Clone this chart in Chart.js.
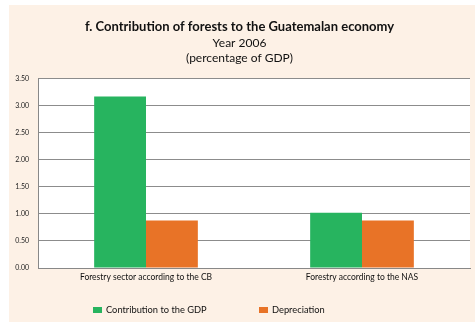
<!DOCTYPE html>
<html>
<head>
<meta charset="utf-8">
<script src="https://cdn.jsdelivr.net/npm/chart.js@4.4.1/dist/chart.umd.min.js"></script>
<style>
  html, body { margin: 0; padding: 0; background: #ffffff; }
  #wrap { position: absolute; left: 9px; top: 5px; width: 466px; height: 317px; background: #fdf1e6; }
</style>
</head>
<body>
<div id="wrap"><canvas id="chart"></canvas></div>
<script>
// Categories and series
var categories = ['Forestry sector according to the CB', 'Forestry according to the NAS'];
var gdpContribution = [3.17, 1.02];
var depreciation = [0.88, 0.88];
var yTicksMax = 3.5;

var FONT = 'Lato, "Open Sans", sans-serif';

// paint the plot area white, the rest stays peach
var plotBg = {
    id: 'plotBg',
    beforeDraw: function(chart) {
        var a = chart.chartArea, ctx = chart.ctx;
        ctx.save();
        ctx.fillStyle = '#ffffff';
        ctx.fillRect(a.left, a.top, a.right - a.left, a.bottom - a.top);
        ctx.restore();
    }
};

// legend drawn by hand: wide gap between the two items
var wideLegend = {
    id: 'wideLegend',
    afterDraw: function(chart) {
        var ctx = chart.ctx, a = chart.chartArea;
        var x = a.left + 55, y = a.bottom + 42;
        ctx.save();
        ctx.font = '9.3px ' + FONT;
        ctx.textBaseline = 'middle';
        chart.data.datasets.forEach(function(ds) {
            ctx.fillStyle = ds.backgroundColor;
            ctx.fillRect(x, y - 3, 9, 6);
            ctx.fillStyle = '#111';
            ctx.fillText(ds.label, x + 13, y);
            x += 166;
        });
        ctx.restore();
    }
};

new Chart(document.getElementById('chart'), {
    type: 'bar',
    data: {
        labels: categories,
        datasets: [
            { label: 'Contribution to the GDP', data: gdpContribution, backgroundColor: '#27b45f', borderWidth: 0 },
            { label: 'Depreciation', data: depreciation, backgroundColor: '#e87327', borderWidth: 0 }
        ]
    },
    options: {
        responsive: true, maintainAspectRatio: false, animation: false,
        layout: { padding: { left: 0, right: 5, top: 0, bottom: 36 } },
        datasets: { bar: { categoryPercentage: 0.48, barPercentage: 1.0 } },
        plugins: {
            title: {
                display: true, text: 'f. Contribution of forests to the Guatemalan economy',
                color: '#111', font: { family: FONT, size: 13, weight: 'bold' },
                padding: { top: 14, bottom: 1 }
            },
            subtitle: {
                display: true, text: ['Year 2006', '(percentage of GDP)'],
                color: '#111', font: { family: FONT, size: 12, lineHeight: 1.25 },
                padding: { top: 0, bottom: 13 }
            },
            legend: { display: false },
            tooltip: { enabled: false }
        },
        scales: {
            x: {
                grid: { display: false, drawTicks: false },
                border: { color: '#888' },
                ticks: { color: '#111', padding: 4, font: { family: FONT, size: 8.5 } },
                afterFit: function(s) { s.height = 18; }
            },
            y: {
                min: 0, max: yTicksMax,
                grid: { color: '#8c8c8c', lineWidth: 1, drawTicks: false },
                border: { color: '#888' },
                ticks: { stepSize: 0.5, color: '#222', padding: 9, font: { family: FONT, size: 7 },
                         callback: function(v) { return v.toFixed(2); } },
                afterFit: function(s) { s.width = 29; }
            }
        }
    },
    plugins: [plotBg, wideLegend]
});
</script>
</body>
</html>
